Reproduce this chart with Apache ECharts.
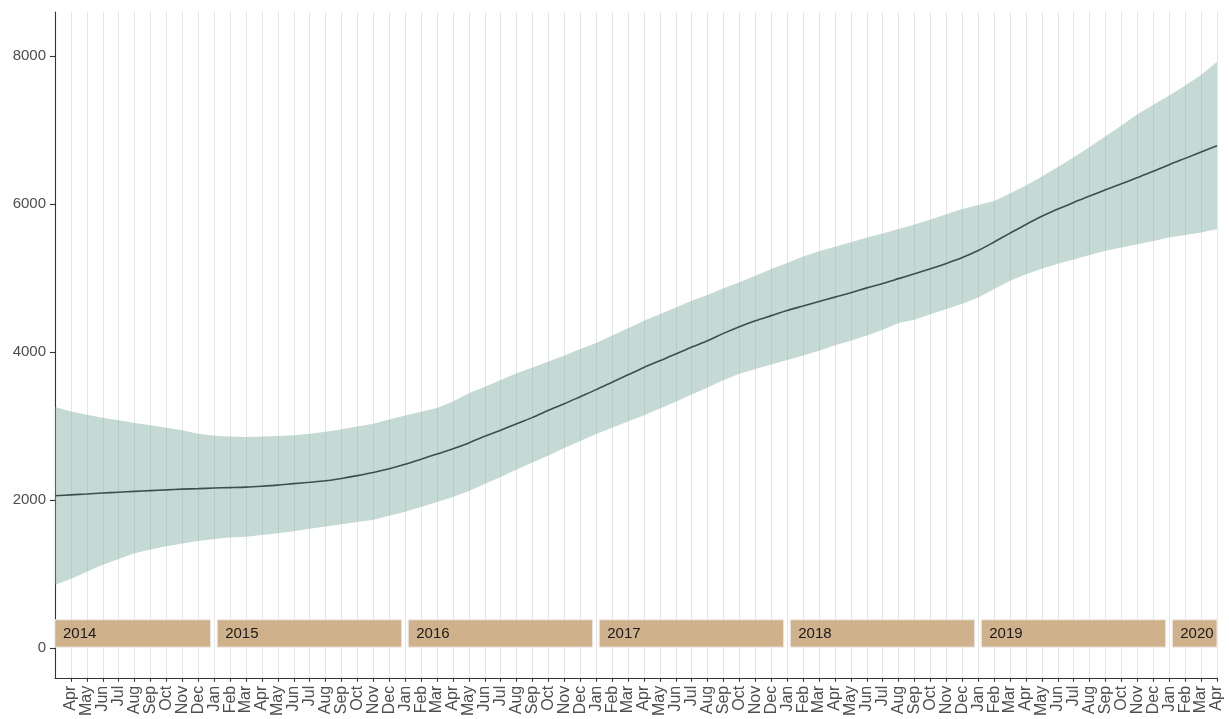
<!DOCTYPE html>
<html>
<head>
<meta charset="utf-8">
<script src="https://cdn.jsdelivr.net/npm/echarts@6/dist/echarts.min.js"></script>
<style>
html,body{margin:0;padding:0;background:#fff;}
#chart{width:1229px;height:719px;}
</style>
</head>
<body>
<div id="chart"></div>
<script>
// Monthly categories, Mar 2014 .. Apr 2020 (index 0 = Mar 2014, unlabelled)
const monthLabels = [
  'Mar','Apr','May','Jun','Jul','Aug','Sep','Oct','Nov','Dec',
  'Jan','Feb','Mar','Apr','May','Jun','Jul','Aug','Sep','Oct','Nov','Dec',
  'Jan','Feb','Mar','Apr','May','Jun','Jul','Aug','Sep','Oct','Nov','Dec',
  'Jan','Feb','Mar','Apr','May','Jun','Jul','Aug','Sep','Oct','Nov','Dec',
  'Jan','Feb','Mar','Apr','May','Jun','Jul','Aug','Sep','Oct','Nov','Dec',
  'Jan','Feb','Mar','Apr','May','Jun','Jul','Aug','Sep','Oct','Nov','Dec',
  'Jan','Feb','Mar','Apr'
];
// Fitted trend
const trendValues = [
  2056,2068,2080,2093,2104,2115,2125,2135,2145,2152,
  2160,2166,2173,2185,2200,2220,2238,2258,2290,2328,2370,2420,
  2480,2550,2620,2690,2770,2860,2940,3030,3115,3210,3300,3395,
  3490,3590,3690,3790,3880,3970,4065,4150,4250,4340,4420,4490,
  4560,4620,4680,4740,4800,4865,4925,4990,5055,5122,5195,5275,
  5370,5485,5605,5722,5832,5930,6020,6105,6190,6272,6355,6440,
  6530,6615,6700,6785
];
// Upper bound of the interval
const upperValues = [
  3255,3195,3150,3110,3075,3040,3010,2975,2940,2895,
  2865,2855,2850,2855,2862,2875,2895,2920,2955,2990,3030,3085,
  3140,3190,3240,3330,3440,3530,3620,3710,3790,3870,3950,4040,
  4120,4220,4320,4420,4510,4600,4690,4770,4860,4940,5030,5120,
  5200,5290,5360,5420,5480,5545,5600,5660,5720,5790,5860,5930,
  5985,6040,6140,6250,6370,6500,6630,6770,6915,7060,7210,7340,
  7465,7600,7740,7920
];
// Lower bound of the interval
const lowerValues = [
  853,930,1030,1125,1200,1280,1330,1375,1410,1445,
  1470,1490,1503,1525,1550,1575,1610,1640,1670,1700,1730,1785,
  1840,1905,1970,2040,2120,2215,2310,2410,2505,2600,2700,2795,
  2890,2975,3060,3145,3235,3325,3425,3520,3620,3705,3770,3830,
  3890,3950,4015,4090,4150,4220,4300,4390,4435,4510,4580,4650,
  4735,4850,4960,5050,5125,5190,5250,5310,5365,5410,5455,5500,
  5545,5580,5612,5660
];
// Year strip
const yearLabels = ['2014','2015','2016','2017','2018','2019','2020'];
const yearStartIdx = [0,10,22,34,46,58,70];
const yearEndIdx = [10,22,34,46,58,70,73];
const yearStripRange = [10,380];
const yTickValues = [0,2000,4000,6000,8000];

const lastIdx = monthLabels.length - 1;
const xTicks = [];
for (let i = 1; i <= lastIdx; i++) xTicks.push(i);

const trendData = trendValues.map((v,i)=>[i,v]);
const bandData = upperValues.map((v,i)=>[i,lowerValues[i],v]);
const yearData = yearLabels.map((y,k)=>[yearStartIdx[k], yearEndIdx[k], y]);

const FONT = "'Liberation Sans', Arial, Helvetica, sans-serif";
const chart = echarts.init(document.getElementById('chart'), null, {renderer:'canvas'});
chart.setOption({
  animation:false,
  backgroundColor:'#ffffff',
  grid:{left:55,right:12,top:12,bottom:39,containLabel:false},
  xAxis:{
    type:'value',min:0,max:lastIdx,interval:1,
    axisLine:{show:true,onZero:false,lineStyle:{color:'#333333',width:1.1}},
    axisTick:{show:true,length:4,customValues:xTicks,lineStyle:{color:'#333333',width:1.1}},
    axisLabel:{
      rotate:90,margin:8,fontSize:16,color:'#4d4d4d',fontFamily:FONT,
      customValues:xTicks,
      formatter:(v)=> (v===0 ? '' : monthLabels[Math.round(v)])
    },
    splitLine:{show:true,lineStyle:{color:'#e6e6e6',width:1}}
  },
  yAxis:{
    type:'value',min:-404,max:8593,
    axisLine:{show:true,onZero:false,lineStyle:{color:'#333333',width:1.1}},
    axisTick:{show:true,length:5,customValues:yTickValues,lineStyle:{color:'#333333',width:1.1}},
    axisLabel:{customValues:yTickValues,margin:9,fontSize:15,color:'#4d4d4d',fontFamily:FONT,
      formatter:(v)=>String(v)},
    splitLine:{show:false}
  },
  series:[
    {
      type:'custom',name:'interval',data:[[0,0,0]],z:2,silent:true,
      renderItem:function(params, api){
        const pts = [];
        for (let i = 0; i < bandData.length; i++) pts.push(api.coord([bandData[i][0], bandData[i][2]]));
        for (let i = bandData.length - 1; i >= 0; i--) pts.push(api.coord([bandData[i][0], bandData[i][1]]));
        return {type:'polygon',shape:{points:pts},style:{fill:'rgba(120,166,158,0.43)'}};
      }
    },
    {
      type:'line',name:'trend',data:trendData,symbol:'none',smooth:0.3,
      lineStyle:{color:'#3d4f4c',width:1.6},z:3
    },
    {
      type:'custom',name:'years',data:yearData,z:4,
      renderItem:function(params, api){
        const s = api.value(0), e = api.value(1);
        const p0 = api.coord([s, yearStripRange[1]]);
        const p1 = api.coord([e, yearStripRange[0]]);
        const x0 = p0[0] + (s > 0 ? 3 : 0);
        const x1 = p1[0] - (e < lastIdx ? 3.5 : 0);
        return {
          type:'group',
          children:[
            {type:'rect',shape:{x:x0,y:p0[1],width:x1-x0,height:p1[1]-p0[1]},
             style:{fill:'rgba(202,168,126,0.9)',stroke:'#ececec',lineWidth:1}},
            {type:'text',x:x0+8,y:(p0[1]+p1[1])/2,
             style:{text:yearLabels[params.dataIndex],fill:'#1a1a1a',fontSize:15,fontFamily:FONT,
                    verticalAlign:'middle',align:'left'}}
          ]
        };
      }
    }
  ]
});
</script>
</body>
</html>
